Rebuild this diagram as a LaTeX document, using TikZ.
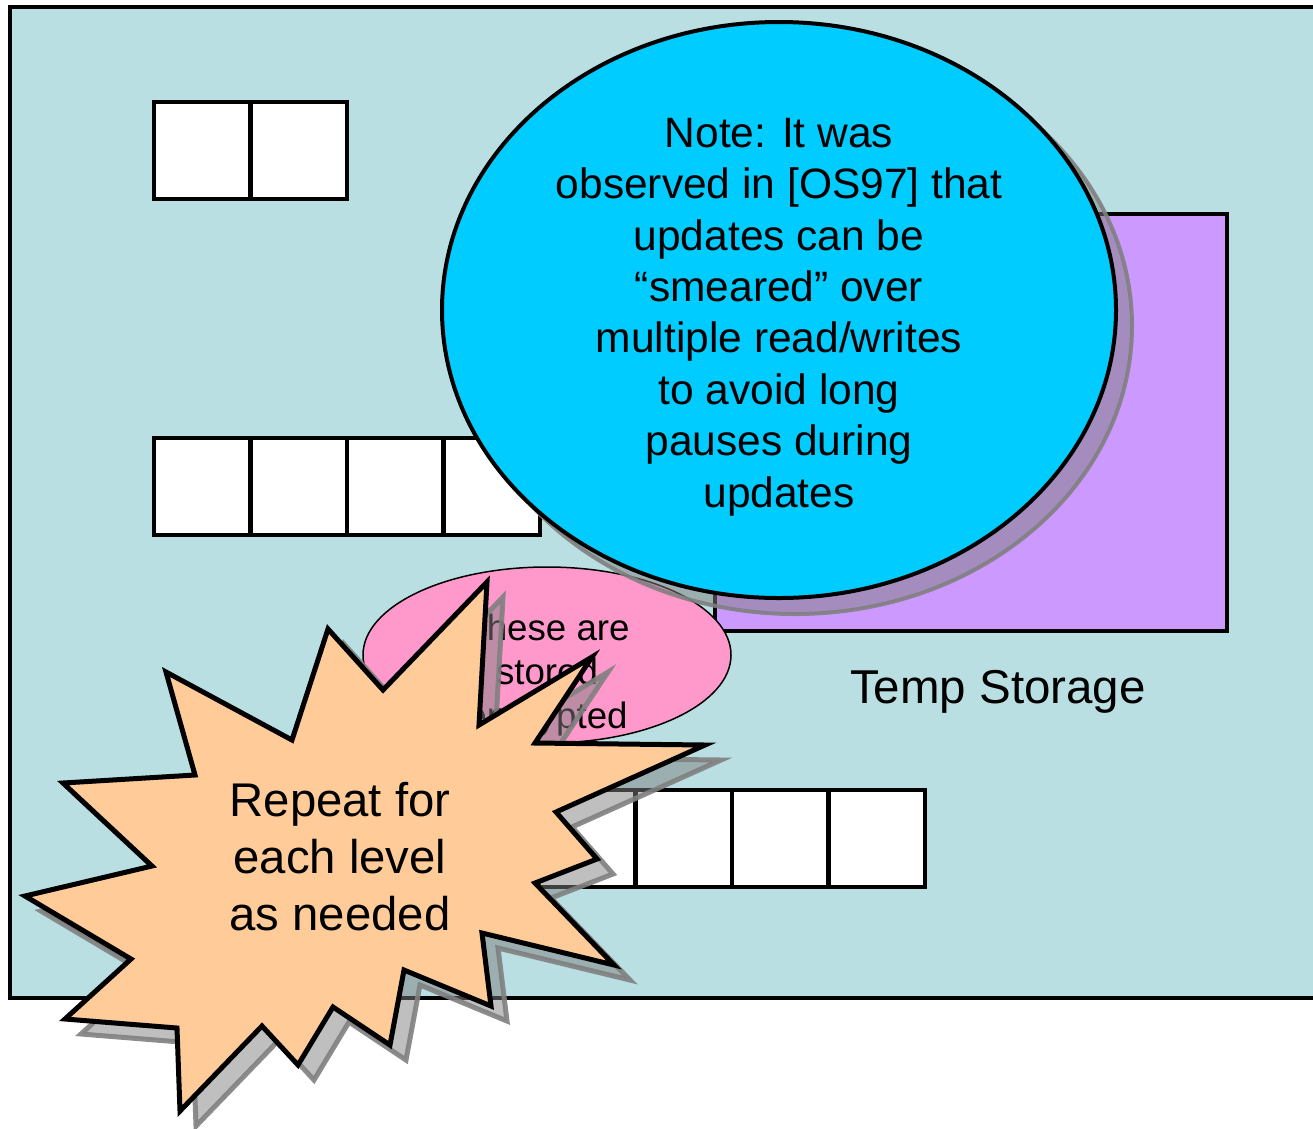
\documentclass[tikz,border=0pt]{standalone}
\usepackage{fontspec}
\setmainfont{Liberation Sans}
\usetikzlibrary{shapes.geometric}
\definecolor{panel}{RGB}{185,223,226}
\definecolor{lilac}{RGB}{204,153,255}
\definecolor{sky}{RGB}{0,204,255}
\definecolor{rose}{RGB}{255,153,204}
\definecolor{apricot}{RGB}{255,204,153}
\begin{document}
\begin{tikzpicture}[x=1pt,y=-1pt,
  cell/.style={draw=black, line width=4.5pt, fill=white, minimum width=96.5pt,
    minimum height=97pt, inner sep=0pt, outer sep=0pt, anchor=north west},
  dropshade/.style={draw=gray, draw opacity=0.9, fill=gray, fill opacity=0.5},
  burst/.style={insert path={(487,582) -- (479,725) -- (592,657) -- (535,743)
    -- (705,745) -- (556,812) -- (597,859) -- (535,883) -- (614,965)
    -- (482,933) -- (491,1006) -- (404,970) -- (390,1045) -- (333,1007)
    -- (298,1065) -- (262,1026) -- (180,1111) -- (177,1028) -- (65,1019)
    -- (131,959) -- (25,896) -- (152,866) -- (63,783) -- (195,775)
    -- (166,672) -- (292,740) -- (328,629) -- (383,690) -- cycle}},
  label/.style={align=center, inner sep=0pt}]
\useasboundingbox (0,0) rectangle (1313,1128);

% outer panel
\node[draw=black, line width=4pt, fill=panel, anchor=north west, outer sep=0pt,
  minimum width=1340pt, minimum height=991pt, inner sep=0pt] (frame) at (10,7) {};

% storage rows
\foreach \i in {0,1}
  \node[cell] (top\i) at (154+96.5*\i,102) {};
\foreach \i in {0,...,3}
  \node[cell] (mid\i) at (154+96.5*\i,438) {};
\foreach \i in {0,...,3}
  \node[cell] (low\i) at (539+96.5*\i,790) {};

% temporary storage area
\node[draw=black, line width=4pt, fill=lilac, anchor=north west, outer sep=0pt,
  minimum width=512pt, minimum height=417pt, inner sep=0pt] (temp) at (715,214) {};
\node[label, font=\fontsize{47.5}{57}\selectfont] (templabel) at (998,692) {Temp Storage};

% encrypted note
\node[ellipse, draw=black, line width=1.5pt, fill=rose, minimum width=368pt,
  minimum height=176pt, inner sep=0pt] (enc) at (547,655) {};
\node[label, font=\fontsize{36.7}{44}\selectfont] (enctext) at (547,675)
  {These are\\stored\\encrypted};

% callout with its shadow
\node[ellipse, dropshade, line width=4pt, minimum width=674pt,
  minimum height=576pt, inner sep=0pt] (noteshade) at (795,326) {};
\node[ellipse, draw=black, line width=4pt, fill=sky, minimum width=674pt,
  minimum height=576pt, inner sep=0pt] (note) at (779,310) {};
\node[label, font=\fontsize{42.5}{51.4}\selectfont] (notetext) at (779,317)
  {Note: It was\\observed in [OS97] that\\updates can be\\“smeared” over\\multiple read/writes\\to avoid long\\pauses during\\updates};

% starburst with its shadow
\draw[dropshade, line width=5pt, shift={(16,15)}, burst];
\draw[draw=black, line width=5pt, fill=apricot, burst];
\node[label, font=\fontsize{47.3}{57}\selectfont] (repeat) at (340,857)
  {Repeat for\\each level\\as needed};
\end{tikzpicture}
\end{document}
